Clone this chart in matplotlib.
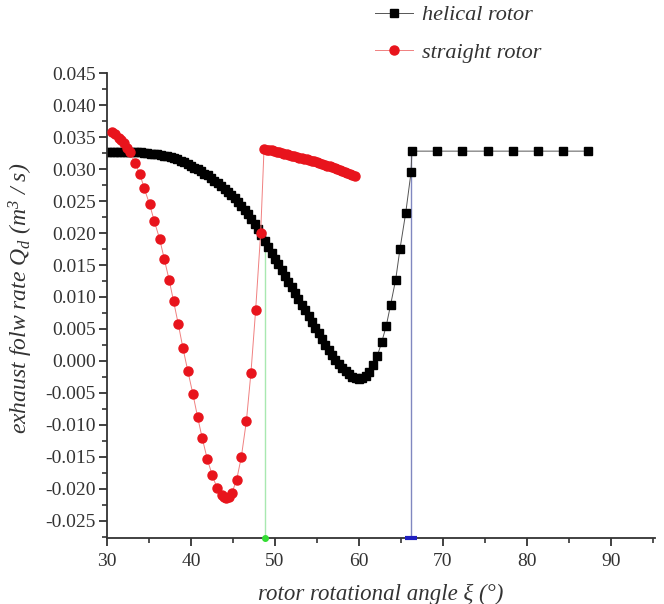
import matplotlib
matplotlib.use("Agg")
from matplotlib import pyplot as plt
from matplotlib.ticker import MultipleLocator, FuncFormatter

plt.rcParams['font.family'] = ['Liberation Serif', 'DejaVu Serif']
plt.rcParams['axes.unicode_minus'] = False
plt.rcParams['mathtext.fontset'] = 'custom'
plt.rcParams['mathtext.it'] = 'Liberation Serif:italic'
plt.rcParams['mathtext.rm'] = 'Liberation Serif:italic'

# helical rotor (black squares)
helical_x = [30.0, 30.4, 30.8, 31.2, 31.6, 32.0, 32.4, 32.8, 33.2, 33.6,
             34.0, 34.4, 34.8, 35.2, 35.6, 36.0, 36.4, 36.8, 37.2, 37.6,
             38.0, 38.4, 38.8, 39.2, 39.6, 40.0, 40.4, 40.8, 41.2, 41.6,
             42.0, 42.4, 42.8, 43.2, 43.6, 44.0, 44.4, 44.8, 45.2, 45.6,
             46.0, 46.4, 46.8, 47.2, 47.6, 48.0, 48.4, 48.8, 49.2, 49.6,
             50.0, 50.4, 50.8, 51.2, 51.6, 52.0, 52.4, 52.8, 53.2, 53.6,
             54.0, 54.4, 54.8, 55.2, 55.6, 56.0, 56.4, 56.8, 57.2, 57.6,
             58.0, 58.4, 58.8, 59.2, 59.6, 60.0, 60.4, 60.8, 61.2,
             61.63, 62.18, 62.70, 63.25, 63.77, 64.37, 64.88, 65.56, 66.2,
             66.3, 69.3, 72.3, 75.3, 78.3, 81.3, 84.3, 87.3]
helical_q = [0.0327, 0.0327, 0.0327, 0.0327, 0.0327, 0.0327, 0.0327, 0.0327, 0.0326, 0.0326,
             0.0326, 0.0325, 0.0325, 0.0324, 0.0324, 0.0323, 0.0322, 0.0321, 0.0320, 0.0319,
             0.0317, 0.0315, 0.0313, 0.0311, 0.0308, 0.0305, 0.0302, 0.0300, 0.0297, 0.0293,
             0.0290, 0.0286, 0.0282, 0.0278, 0.0273, 0.0269, 0.0264, 0.0259, 0.0254, 0.0249,
             0.0243, 0.0236, 0.0229, 0.0222, 0.0214, 0.0206, 0.0197, 0.0188, 0.0178, 0.0169,
             0.0160, 0.0151, 0.0142, 0.0133, 0.0124, 0.0115, 0.0106, 0.0097, 0.0088, 0.0079,
             0.0070, 0.0061, 0.0052, 0.0043, 0.0034, 0.0025, 0.0017, 0.0009, 0.0002, -0.0005,
             -0.0011, -0.0016, -0.0021, -0.0025, -0.0027, -0.0028, -0.0027, -0.0023, -0.0017,
             -0.0007, 0.0008, 0.0029, 0.0055, 0.0088, 0.0127, 0.0175, 0.0231, 0.0295,
             0.0328, 0.0328, 0.0328, 0.0328, 0.0328, 0.0328, 0.0328, 0.0328]

# straight rotor (red circles)
straight_x = [30.6, 31.0, 31.4, 31.7, 32.0, 32.4, 32.74, 33.33, 33.93, 34.44,
              35.08, 35.63, 36.27, 36.82, 37.42, 37.94, 38.49, 39.05, 39.62, 40.24,
              40.80, 41.35, 41.94, 42.54, 43.13, 43.65, 43.9, 44.17, 44.5, 44.85,
              45.44, 46.0, 46.6, 47.14, 47.70, 48.3,
              48.7, 49.0, 49.3, 49.6, 49.9, 50.2, 50.5, 50.8, 51.1, 51.4,
              51.7, 52.0, 52.3, 52.6, 52.9, 53.2, 53.5, 53.8, 54.1, 54.4,
              54.7, 55.0, 55.3, 55.6, 55.9, 56.2, 56.5, 56.8, 57.1, 57.4,
              57.7, 58.0, 58.3, 58.6, 58.9, 59.2, 59.5]
straight_q = [0.0358, 0.0354, 0.0349, 0.0345, 0.0340, 0.0333, 0.0326, 0.0310, 0.0292, 0.0270,
              0.0245, 0.0219, 0.0191, 0.0160, 0.0126, 0.0093, 0.0058, 0.0020, -0.0015, -0.0052,
              -0.0088, -0.0121, -0.0153, -0.0179, -0.0199, -0.0210, -0.0213, -0.0214, -0.0212, -0.0207,
              -0.0186, -0.0150, -0.0094, -0.0019, 0.0079, 0.0200,
              0.0331, 0.0330, 0.0330, 0.0329, 0.0328, 0.0327, 0.0326, 0.0325, 0.0324, 0.0323,
              0.0322, 0.0321, 0.0320, 0.0319, 0.0318, 0.0317, 0.0316, 0.0315, 0.0314, 0.0313,
              0.0312, 0.0311, 0.0309, 0.0308, 0.0307, 0.0305, 0.0304, 0.0303, 0.0301, 0.0300,
              0.0298, 0.0297, 0.0295, 0.0294, 0.0292, 0.0290, 0.0289]

# vertical guide lines
green_x = [48.8, 48.8]
green_q = [-0.0277, 0.0195]
blue_x = [66.2, 66.2]
blue_q = [-0.0277, 0.0328]

fig = plt.figure(figsize=(6.64, 6.04), dpi=100)
ax = fig.add_axes([0.161, 0.109, 0.825, 0.770])

ax.plot(green_x, green_q, color='#a8e8b0', lw=1.0, zorder=1)
ax.plot(green_x[:1], green_q[:1], 'o', color='#33dd33', ms=4, clip_on=False, zorder=5)
ax.plot(blue_x, blue_q, color='#8088c0', lw=1.0, zorder=1)
ax.plot(blue_x[:1], blue_q[:1], '_', color='#2020c0', ms=8, mew=3, clip_on=False, zorder=5)

ax.plot(helical_x, helical_q, '-s', color='#555555', lw=0.7, mfc='black', mec='black',
        ms=5.5, label='helical rotor', zorder=2)
ax.plot(straight_x, straight_q, '-o', color='#f08080', lw=0.7, mfc='#e8141c', mec='#e8141c',
        ms=6.5, label='straight rotor', zorder=3)

ax.set_xlim(30, 95.2)
ax.set_ylim(-0.0277, 0.045)
ax.xaxis.set_major_locator(MultipleLocator(10))
ax.xaxis.set_minor_locator(MultipleLocator(5))
ax.yaxis.set_major_locator(MultipleLocator(0.005))
ax.yaxis.set_minor_locator(MultipleLocator(0.0025))
ax.yaxis.set_major_formatter(FuncFormatter(lambda v, p: '%.3f' % (0.0 if abs(v) < 1e-9 else v)))

for s in ['top', 'right']:
    ax.spines[s].set_visible(False)
for s in ['left', 'bottom']:
    ax.spines[s].set_linewidth(1.3)
    ax.spines[s].set_color('#333333')

ax.tick_params(axis='both', which='major', direction='out', length=6, width=1.3, color='#333333')
ax.tick_params(axis='both', which='minor', direction='out', length=3.5, width=1.2, color='#333333')
ax.tick_params(axis='y', labelsize=14, pad=2, labelcolor='#333333')
ax.tick_params(axis='x', labelsize=14, pad=5, labelcolor='#333333')

ax.set_xlabel('rotor rotational angle ξ (°)', fontsize=16.5, style='italic', color='#333333')
ax.xaxis.set_label_coords(0.5, -0.098)
ax.set_ylabel('exhaust folw rate Q$_d$ (m$^3$ / s)', fontsize=17, style='italic',
              color='#333333')
ax.yaxis.set_label_coords(-0.131, 0.516)

leg = fig.legend(loc='upper left', bbox_to_anchor=(0.535, 1.025), frameon=False,
                 prop={'size': 16, 'style': 'italic'}, handlelength=1.7,
                 handletextpad=0.4, labelspacing=0.75)
for t in leg.get_texts():
    t.set_color('#333333')

fig.savefig('out.png', dpi=100)
